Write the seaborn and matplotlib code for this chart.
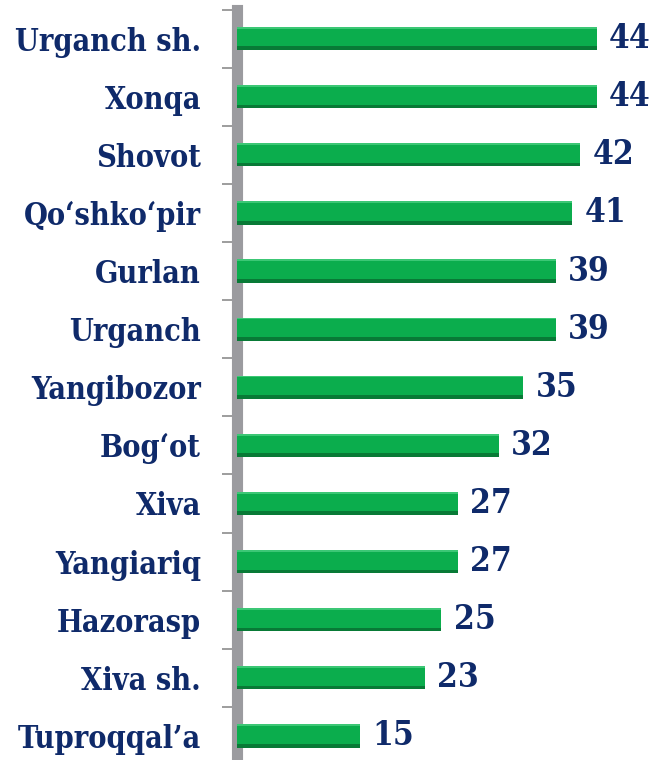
import numpy as np
import pandas as pd
import seaborn as sns
import matplotlib.pyplot as plt
from matplotlib.patches import Rectangle

DISTRICTS = ["Urganch sh.", "Xonqa", "Shovot", "Qo\u2018shko\u2018pir", "Gurlan", "Urganch",
             "Yangibozor", "Bog\u2018ot", "Xiva", "Yangiariq", "Hazorasp", "Xiva sh.",
             "Tuproqqal\u2019a"]
VALUES = [44, 44, 42, 41, 39, 39, 35, 32, 27, 27, 25, 23, 15]

NAVY = "#0F2A6A"
GREEN = "#0BAD4D"
GREEN_DARK = "#087A36"
GREEN_LIGHT = "#3CC775"

df = pd.DataFrame({"district": DISTRICTS, "value": VALUES})

sns.set_style("white")
plt.rcParams["font.family"] = ["DejaVu Serif"]
plt.rcParams["font.stretch"] = "condensed"

fig = plt.figure(figsize=(6.53, 7.60), dpi=100)
ax = fig.add_axes([237 / 653, -0.0066, 1 - 237 / 653, 0.9875 + 0.0066])

sns.barplot(data=df, x="value", y="district", color=GREEN, width=0.4,
            saturation=1, ax=ax, zorder=3)

# darker lower edge and light upper edge on every bar
for p in list(ax.patches):
    p.set_edgecolor("none")
    x, y, w, h = p.get_x(), p.get_y(), p.get_width(), p.get_height()
    ax.add_patch(Rectangle((x, y + h * 0.84), w, h * 0.16, color=GREEN_DARK, zorder=4, lw=0))
    ax.add_patch(Rectangle((x, y), w, h * 0.08, color=GREEN_LIGHT, zorder=4, lw=0))

ax.bar_label(ax.containers[0], fmt="%d", padding=9, fontsize=24,
             fontweight="bold", color=NAVY)

ax.set_xlim(0, 50.9)
ax.set_ylim(len(DISTRICTS) - 0.5, -0.5)
ax.set_xlabel("")
ax.set_ylabel("")
ax.set_xticks([])

for s in ["top", "right", "bottom"]:
    ax.spines[s].set_visible(False)
ax.spines["left"].set_color("#9B9B9F")
ax.spines["left"].set_linewidth(8)
ax.spines["left"].set_zorder(2)

ax.set_yticks(np.arange(-0.5, len(DISTRICTS), 1.0), minor=True)
ax.tick_params(axis="y", which="minor", length=11, width=1.2, color="#8C8C8C", left=True)
ax.tick_params(axis="y", which="major", length=0, pad=26, labelsize=22, labelcolor=NAVY)
for lbl in ax.get_yticklabels():
    lbl.set_fontweight("bold")

fig.savefig("out.png", dpi=100)
